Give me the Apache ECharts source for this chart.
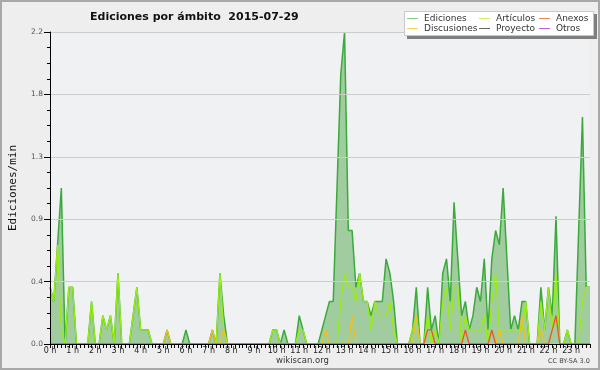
<!DOCTYPE html>
<html><head><meta charset="utf-8">
<script src="https://cdn.jsdelivr.net/npm/echarts@6/dist/echarts.min.js"></script>
<style>html,body{margin:0;padding:0;background:#eeeeee}#c{width:600px;height:370px}</style>
</head><body><div id="c"></div>
<script>
// 10-minute slots, 0:00 .. 23:50
const hourLabels = [];
for (let h = 0; h < 24; h++) hourLabels.push(h + ' h');
const times = [];
for (let h = 0; h < 24; h++) for (let m = 0; m < 60; m += 10) times.push(h + ':' + (m < 10 ? '0' : '') + m);

const ediciones = [
 0.4,0.3,0.7,1.1,0,0.4,0.4,0,0,0,0,0.3,
 0,0,0.2,0.1,0.2,0,0.5,0,0,0,0.2,0.4,
 0.1,0.1,0.1,0,0,0,0,0.1,0,0,0,0,
 0.1,0,0,0,0,0,0,0.1,0,0.5,0.2,0,
 0,0,0,0,0,0,0,0,0,0,0,0.1,
 0.1,0,0.1,0,0,0,0.2,0.1,0,0,0,0,
 0.1,0.2,0.3,0.3,1.1,1.9,2.2,0.8,0.8,0.4,0.5,0.3,
 0.3,0.2,0.3,0.3,0.3,0.6,0.5,0.3,0,0,0,0,
 0.1,0.4,0,0,0.4,0.1,0.2,0,0.5,0.6,0.3,1.0,
 0.6,0.2,0.3,0.1,0.2,0.4,0.3,0.6,0.1,0.6,0.8,0.7,
 1.1,0.6,0.1,0.2,0.1,0.3,0.3,0,0,0,0.4,0.1,
 0.4,0.2,0.9,0,0,0.1,0,0,0.8,1.6,0.4,0.4
];
const articulos = [
 0.4,0.3,0.7,0.1,0,0.4,0.4,0,0,0,0,0.3,
 0,0,0.2,0.1,0.2,0,0.5,0,0,0,0.2,0.4,
 0.1,0.1,0.1,0,0,0,0,0,0,0,0,0,
 0,0,0,0,0,0,0,0,0,0.5,0.1,0,
 0,0,0,0,0,0,0,0,0,0,0,0.1,
 0.1,0,0,0,0,0,0.1,0.1,0,0,0,0,
 0,0,0,0,0,0.3,0.5,0.4,0.4,0.3,0.5,0.3,
 0.3,0.1,0.3,0.2,0.2,0.2,0.3,0.1,0,0,0,0,
 0.1,0.2,0,0,0.2,0,0.1,0,0.3,0.4,0.1,0.4,
 0.4,0,0.2,0.1,0.1,0.1,0.1,0.2,0,0.3,0.5,0.1,
 0.1,0.1,0.1,0.1,0.1,0.1,0.3,0,0,0,0.3,0.1,
 0.4,0.1,0.5,0,0,0.1,0,0,0,0.3,0.4,0.4
];
const discusiones = [
 0,0,0,0,0,0,0,0,0,0,0,0,
 0,0,0,0,0,0,0,0,0,0,0,0,
 0,0,0,0,0,0,0,0.1,0,0,0,0,
 0,0,0,0,0,0,0,0.1,0,0,0.1,0,
 0,0,0,0,0,0,0,0,0,0,0,0,
 0,0,0,0,0,0,0,0,0,0,0,0,
 0,0.1,0,0,0,0,0,0,0.2,0,0,0,
 0,0,0,0,0,0,0,0,0,0,0,0,
 0,0.2,0,0,0,0,0,0,0,0,0,0,
 0,0,0,0,0,0,0,0,0,0,0,0.1,
 0,0,0,0,0,0.2,0,0,0,0,0.1,0,
 0,0,0,0,0,0,0,0,0,0,0,0
];
const anexos = [
 0,0,0,0,0,0,0,0,0,0,0,0,
 0,0,0,0,0,0,0,0,0,0,0,0,
 0,0,0,0,0,0,0,0,0,0,0,0,
 0,0,0,0,0,0,0,0,0,0,0,0,
 0,0,0,0,0,0,0,0,0,0,0,0,
 0,0,0,0,0,0,0,0,0,0,0,0,
 0,0,0,0,0,0,0,0,0,0,0,0,
 0,0,0,0,0,0,0,0,0,0,0,0,
 0,0,0,0,0.1,0.1,0,0,0,0,0,0,
 0,0,0.1,0,0,0,0,0,0,0.1,0,0,
 0,0,0,0,0,0,0,0,0,0,0,0,
 0,0.1,0.2,0,0,0,0,0,0,0,0,0
];
const proyecto = [];
const otros = [];

const chart = echarts.init(document.getElementById('c'), null, {renderer: 'canvas'});
const font = 'DejaVu Sans';
function leg(name, color, left, top) {
  return {
    data: [{name: name, itemStyle: {color: color}}],
    left: left, top: top, padding: 0, z: 60,
    icon: 'rect', itemWidth: 11, itemHeight: 1, itemGap: 0,
    textStyle: {fontFamily: font, fontSize: 9, color: '#333', padding: [0,0,0,1]},
    selectedMode: false
  };
}
const option = {
  animation: false,
  backgroundColor: '#eeeeee',
  title: {
    text: 'Ediciones por ámbito  2015-07-29',
    left: 85, top: 7,
    textStyle: {fontFamily: font, fontSize: 11, fontWeight: 'bold', color: '#111'}
  },
  grid: {left: 46, right: 10, top: 32, bottom: 26, show: true, backgroundColor: '#f0f1f2', borderWidth: 0},
  legend: [
    leg('Ediciones', '#88cc88', 407, 14),
    leg('Artículos', '#ccee66', 479, 14),
    leg('Anexos', '#ee8855', 539, 14),
    leg('Discusiones', '#ffcc55', 407, 24),
    leg('Proyecto', '#666666', 479, 24),
    leg('Otros', '#aa66ee', 539, 24)
  ],
  xAxis: {
    type: 'category', data: times, boundaryGap: false, z: 10,
    axisLine: {lineStyle: {color: '#000', width: 1}},
    axisTick: {interval: 0, length: 4, lineStyle: {color: '#000'}},
    axisLabel: {
      interval: 5, margin: 3, fontFamily: font, fontSize: 8, color: '#222',
      formatter: function (v, i) { return hourLabels[Math.floor(i / 6)]; }
    },
    splitLine: {show: false}
  },
  yAxis: {
    type: 'value', min: 0, max: 2.2, interval: 0.44, z: 10,
    name: 'Ediciones/min', nameLocation: 'middle', nameGap: 31, nameRotate: 90,
    nameTextStyle: {fontFamily: 'DejaVu Sans Mono', fontSize: 11, color: '#111'},
    axisLine: {show: true, lineStyle: {color: '#000'}},
    axisTick: {show: true, length: 6, lineStyle: {color: '#000'}},
    minorTick: {show: true, splitNumber: 4, length: 3, lineStyle: {color: '#000'}},
    axisLabel: {margin: 7, fontFamily: font, fontSize: 7.5, color: '#555',
      formatter: function (v) { return v.toFixed(1); }},
    splitLine: {show: true, lineStyle: {color: '#cccccc', width: 1}}
  },
  series: [
    {name: 'Ediciones', type: 'line', data: ediciones, symbol: 'none', z: 2,
     lineStyle: {color: '#3aaa3a', width: 1.5}, itemStyle: {color: '#3aaa3a'},
     areaStyle: {color: '#a1cca0', opacity: 1}},
    {name: 'Artículos', type: 'line', data: articulos, symbol: 'none', z: 3,
     lineStyle: {color: '#99ee11', width: 1.3}, itemStyle: {color: '#99ee11'}},
    {name: 'Discusiones', type: 'line', data: discusiones, symbol: 'none', z: 4,
     lineStyle: {color: '#f0c020', width: 1.3}, itemStyle: {color: '#f0c020'}},
    {name: 'Anexos', type: 'line', data: anexos, symbol: 'none', z: 5,
     lineStyle: {color: '#ee5522', width: 1.3}, itemStyle: {color: '#ee5522'}},
    {name: 'Proyecto', type: 'line', data: proyecto, symbol: 'none',
     lineStyle: {color: '#555555', width: 1.3}, itemStyle: {color: '#555555'}},
    {name: 'Otros', type: 'line', data: otros, symbol: 'none',
     lineStyle: {color: '#9955ee', width: 1.3}, itemStyle: {color: '#9955ee'}}
  ],
  graphic: [
    {type: 'rect', z: 50, shape: {x: 407, y: 14, width: 190, height: 25}, style: {fill: '#7f7f7f'}},
    {type: 'rect', z: 51, shape: {x: 404.5, y: 11.5, width: 189, height: 24}, style: {fill: '#ffffff', stroke: '#c8c8c8', lineWidth: 1}},
    {type: 'text', z: 50, left: 276, top: 356, style: {text: 'wikiscan.org', font: '8.5px "DejaVu Sans"', fill: '#333'}},
    {type: 'text', z: 50, left: 548, top: 358, style: {text: 'CC BY-SA 3.0', font: '6.5px "DejaVu Sans"', fill: '#444'}},
    {type: 'rect', z: 100, shape: {x: 1, y: 1, width: 598, height: 368}, style: {fill: 'none', stroke: '#a8a8a8', lineWidth: 2}}
  ]
};
chart.setOption(option);
</script></body></html>
